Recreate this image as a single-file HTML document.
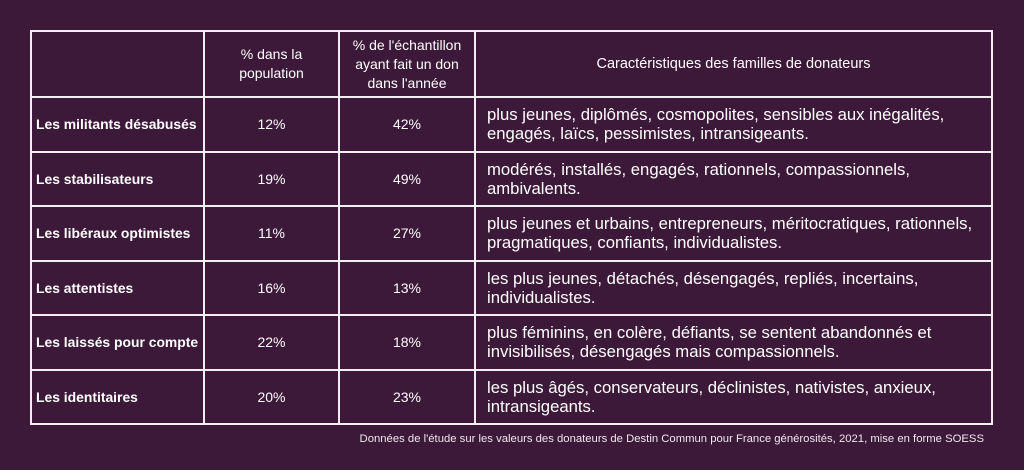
<!DOCTYPE html>
<html><head><meta charset="utf-8"><style>
body{margin:0;width:1024px;height:470px;background:#3c1839;position:relative;overflow:hidden;font-family:"Liberation Sans",sans-serif;color:#fff}
table{position:absolute;left:30px;top:30px;border-collapse:collapse;table-layout:fixed;width:963px}
td{border:2px solid #f2eef2;padding:0;vertical-align:middle}
.h td{height:64px;font-size:14px;text-align:center;line-height:19px}
.h td.x{font-size:14.5px}
.r td{height:52.5px}
.n{font-weight:bold;font-size:13.9px;padding-left:4px;white-space:nowrap}
.c{text-align:center;font-size:14px}
.d{font-size:16.7px;line-height:19px;padding-left:11px;white-space:nowrap}
.f{position:absolute;right:40px;top:433px;font-size:11.3px;color:#f0e8f0;white-space:nowrap}
</style></head><body>
<table>
<colgroup><col style="width:173px"><col style="width:135px"><col style="width:136px"><col></colgroup>
<tr class="h"><td></td><td>% dans la<br>population</td><td>% de l'échantillon<br>ayant fait un don<br>dans l'année</td><td class="x">Caractéristiques des familles de donateurs</td></tr>
<tr class="r"><td class="n">Les militants désabusés</td><td class="c">12%</td><td class="c">42%</td><td class="d">plus jeunes, diplômés, cosmopolites, sensibles aux inégalités,<br>engagés, laïcs, pessimistes, intransigeants.</td></tr>
<tr class="r"><td class="n">Les stabilisateurs</td><td class="c">19%</td><td class="c">49%</td><td class="d">modérés, installés, engagés, rationnels, compassionnels,<br>ambivalents.</td></tr>
<tr class="r"><td class="n">Les libéraux optimistes</td><td class="c">11%</td><td class="c">27%</td><td class="d">plus jeunes et urbains, entrepreneurs, méritocratiques, rationnels,<br>pragmatiques, confiants, individualistes.</td></tr>
<tr class="r"><td class="n">Les attentistes</td><td class="c">16%</td><td class="c">13%</td><td class="d">les plus jeunes, détachés, désengagés, repliés, incertains,<br>individualistes.</td></tr>
<tr class="r"><td class="n">Les laissés pour compte</td><td class="c">22%</td><td class="c">18%</td><td class="d">plus féminins, en colère, défiants, se sentent abandonnés et<br>invisibilisés, désengagés mais compassionnels.</td></tr>
<tr class="r"><td class="n">Les identitaires</td><td class="c">20%</td><td class="c">23%</td><td class="d">les plus âgés, conservateurs, déclinistes, nativistes, anxieux,<br>intransigeants.</td></tr>
</table>
<div class="f">Données de l'étude sur les valeurs des donateurs de Destin Commun pour France générosités, 2021, mise en forme SOESS</div>
</body></html>
